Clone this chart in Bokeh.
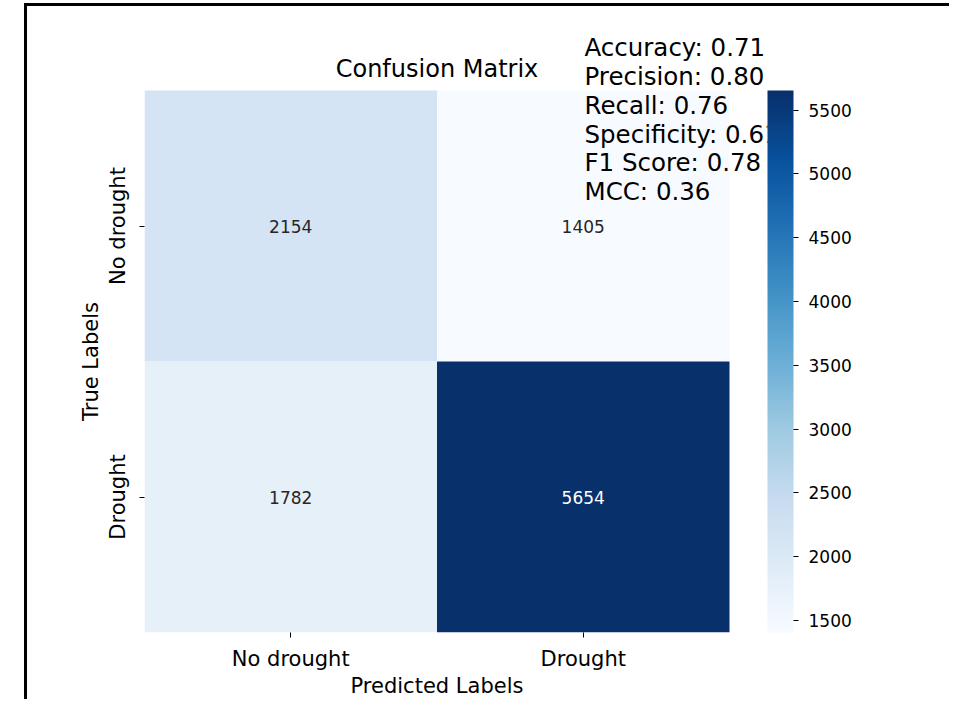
from bokeh.plotting import figure
from bokeh.models import (Range1d, FixedTicker, LinearColorMapper, ColorBar, Label,
                          ColumnDataSource, LinearAxis)
from bokeh.transform import transform
from bokeh.palettes import Blues256
from bokeh.embed import file_html
from bokeh.resources import INLINE

# ---- data ----
true_labels = ["No drought", "Drought"]
pred_labels = ["No drought", "Drought"]
counts = [[2154, 1405],
          [1782, 5654]]
metric_names = ["Accuracy", "Precision", "Recall", "Specificity", "F1 Score", "MCC"]
metric_values = [0.71, 0.80, 0.76, 0.61, 0.78, 0.36]
cbar_ticks = [1500, 2000, 2500, 3000, 3500, 4000, 4500, 5000, 5500]
title_text = "Confusion Matrix"
x_title = "Predicted Labels"
y_title = "True Labels"

FONT = "DejaVu Sans"
n = len(true_labels)
flat = [v for row in counts for v in row]
lo, hi = min(flat), max(flat)

# ---- layout (pixels on the page) ----
CANVAS_X, CANVAS_Y = 28, 7
HEAT_L, HEAT_R, HEAT_T, HEAT_B = 145, 730, 91, 633
FRAME_T, FRAME_R = 30, 768
CANVAS_W = 925
BOTTOM_BORDER = 70
CANVAS_H = (HEAT_B - CANVAS_Y) + BOTTOM_BORDER
x_per = (HEAT_R - HEAT_L) / n
y_per = (HEAT_B - HEAT_T) / n
x_end = n + (FRAME_R - HEAT_R) / x_per
y_end = n + (HEAT_T - FRAME_T) / y_per

xs, ys, vals, txt, tcol = [], [], [], [], []
for i, row in enumerate(counts):
    for j, v in enumerate(row):
        xs.append(j + 0.5)
        ys.append(n - 1 - i + 0.5)
        vals.append(v)
        txt.append(str(v))
        tcol.append("white" if (v - lo) / (hi - lo) > 0.6 else "#262626")
src = ColumnDataSource(dict(x=xs, y=ys, v=vals, t=txt, c=tcol))

mapper = LinearColorMapper(palette=list(reversed(Blues256)), low=lo, high=hi)

p = figure(width=CANVAS_W, height=CANVAS_H, x_range=Range1d(0, x_end), y_range=Range1d(0, y_end),
           output_backend="svg", toolbar_location=None,
           min_border_left=HEAT_L - CANVAS_X,
           min_border_right=CANVAS_X + CANVAS_W - FRAME_R,
           min_border_top=FRAME_T - CANVAS_Y,
           min_border_bottom=BOTTOM_BORDER)
p.margin = (3, 0, 0, 24)
p.styles = {"border-left": "3px solid black", "border-top": "3px solid black"}
p.outline_line_color = None
p.grid.visible = False
p.background_fill_color = "white"
p.border_fill_color = "white"

p.rect("x", "y", width=1, height=1, source=src,
       fill_color=transform("v", mapper), line_color=None)
p.text("x", "y", text="t", source=src, text_align="center", text_baseline="middle",
       text_color="c", text_font_size="17px", text_font={"value": FONT})


def style_axis(ax, tick_out):
    ax.axis_line_color = None
    ax.minor_tick_line_color = None
    ax.major_tick_in = 0
    ax.major_tick_out = tick_out
    ax.major_tick_line_color = "black" if tick_out else None
    ax.major_label_text_font = FONT
    ax.major_label_text_font_size = "21px"
    ax.major_label_text_color = "black"


xa = p.xaxis[0]
style_axis(xa, 5)
xa.ticker = FixedTicker(ticks=[j + 0.5 for j in range(n)])
xa.major_label_overrides = {j + 0.5: lab for j, lab in enumerate(pred_labels)}
xa.major_label_standoff = 9

ya = p.yaxis[0]
style_axis(ya, 5)
ya.ticker = FixedTicker(ticks=[n - 1 - i + 0.5 for i in range(n)])
ya.major_label_overrides = {n - 1 - i + 0.5: lab for i, lab in enumerate(true_labels)}
ya.major_label_orientation = "vertical"
ya.major_label_standoff = 10

# axis titles, centred on the heatmap
xt = LinearAxis(ticker=FixedTicker(ticks=[n / 2]), major_label_overrides={n / 2: x_title})
style_axis(xt, 0)
xt.major_label_standoff = 0
p.add_layout(xt, "below")

yt = LinearAxis(ticker=FixedTicker(ticks=[n / 2]), major_label_overrides={n / 2: y_title})
style_axis(yt, 0)
yt.major_label_orientation = "vertical"
yt.major_label_standoff = 0
p.add_layout(yt, "left")

# title (visual centre of the text line)
p.add_layout(Label(x=n / 2, y=(HEAT_B - 69.6) / y_per, text=title_text, text_align="center",
                   text_baseline="middle", text_font=FONT, text_font_size="24px",
                   text_color="black"))
# metrics text
for k, (name, val) in enumerate(zip(metric_names, metric_values)):
    mid_px = 48.4 + k * 28.7
    p.add_layout(Label(x=(585 - HEAT_L) / x_per, y=(HEAT_B - mid_px) / y_per,
                       text=f"{name}: {val:.2f}",
                       text_align="left", text_baseline="middle", text_font=FONT,
                       text_font_size="24.5px", text_color="black"))

cb = ColorBar(color_mapper=mapper, ticker=FixedTicker(ticks=cbar_ticks),
              width=26, height=HEAT_B - HEAT_T, location=(0, 0), padding=0, margin=0,
              bar_line_color=None, border_line_color=None, background_fill_color=None,
              major_tick_in=0, major_tick_out=5, major_tick_line_color="black",
              minor_tick_line_color=None, label_standoff=10,
              major_label_text_font=FONT, major_label_text_font_size="17px",
              major_label_text_color="black")
cb.level = "overlay"
p.add_layout(cb, "right")

open("out.html", "w").write(file_html(p, INLINE))
